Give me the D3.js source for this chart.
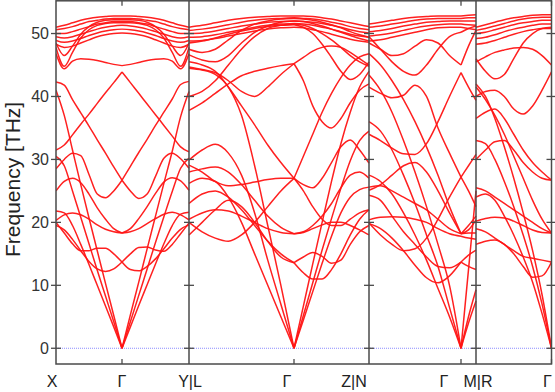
<!DOCTYPE html>
<html><head><meta charset="utf-8">
<script src="https://cdn.jsdelivr.net/npm/d3@7"></script>
<style>html,body{margin:0;padding:0;background:#fff;}svg{display:block;}</style>
</head><body>
<svg id="chart" width="555" height="392"></svg>
<script>
// ---------- data ----------
const kTicks = [0, 1, 2, 3, 4, 5, 6, 7];
const kLabels = ["X", "Γ", "Y|L", "Γ", "Z|N", "Γ", "M|R", "Γ"];
const gammaTicks = [1, 3, 5, 7];
const panelEdges = [2, 4, 6];
const yTicks = [0, 10, 20, 30, 40, 50];

// Panel 1: X -> Γ -> Y
const kPanel1 = [0,0.125,0.25,0.375,0.5,0.625,0.75,0.875,1,1.125,1.25,1.375,1.5,1.625,1.75,1.875,2];
const bandsPanel1 = [
  [41.0,37.0,31.5,26.0,20.7,15.5,10.3,5.2,0,5.3,10.5,15.8,21.0,26.2,31.3,36.8,40.8],
  [30.5,29.0,25.0,20.8,16.6,12.4,8.3,4.2,0,4.2,8.4,12.6,16.8,20.9,24.9,28.6,30.2],
  [21.8,21.5,19.5,16.5,13.3,10.0,6.7,3.4,0,3.4,6.8,10.1,13.4,16.6,19.5,21.3,21.6],
  [19.5,18.8,17.3,15.5,13.8,12.6,12.2,12.6,13.7,12.5,12.3,13.0,14.2,15.8,17.5,18.9,19.6],
  [20.0,18.3,16.6,15.5,15.5,15.9,15.9,15.0,13.7,15.0,16.0,16.1,15.6,15.4,16.5,18.2,19.9],
  [20.3,21.2,21.5,21.2,20.5,19.6,18.9,18.5,18.3,18.5,19.0,19.8,20.6,21.3,21.6,21.2,20.4],
  [25.0,26.5,27.0,26.3,24.5,22.3,20.5,19.0,18.3,19.0,20.6,22.5,24.6,26.4,27.1,26.6,25.1],
  [28.5,30.0,31.0,30.6,27.6,24.5,23.9,25.0,26.7,25.0,23.8,24.5,27.3,30.2,31.0,30.1,28.6],
  [42.3,41.8,39.5,37.4,35.3,33.1,31.0,28.8,26.7,28.9,31.1,33.2,35.4,37.5,39.6,41.9,42.4],
  [31.5,32.3,33.9,35.6,37.2,38.9,40.6,42.2,43.9,42.2,40.5,38.8,37.1,35.4,33.7,32.0,31.2],
  [46.8,44.4,45.6,46.0,45.9,45.7,45.4,45.1,44.9,45.1,45.4,45.7,45.9,46.0,45.6,44.4,46.8],
  [47.8,44.8,47.0,49.3,50.6,51.3,51.6,51.7,51.7,51.7,51.6,51.3,50.6,49.3,47.0,44.8,47.8],
  [48.5,46.5,48.0,49.9,51.1,51.8,52.1,52.2,52.2,52.2,52.1,51.8,51.1,49.9,48.0,46.5,48.5],
  [51.0,51.3,51.7,52.1,52.4,52.6,52.7,52.8,52.8,52.8,52.7,52.6,52.4,52.1,51.7,51.3,51.0],
  [50.6,50.8,51.1,51.5,51.9,52.1,52.3,52.4,52.4,52.4,52.3,52.1,51.9,51.5,51.1,50.8,50.6],
  [50.0,50.0,50.3,50.7,51.1,51.5,51.7,51.9,51.9,51.9,51.7,51.5,51.1,50.7,50.3,50.0,50.0],
  [49.5,49.3,49.5,49.9,50.3,50.7,51.0,51.2,51.3,51.2,51.0,50.7,50.3,49.9,49.5,49.3,49.5],
  [48.9,48.6,48.8,49.2,49.7,50.1,50.4,50.6,50.7,50.6,50.4,50.1,49.7,49.2,48.8,48.6,48.9],
  [48.3,47.8,48.0,48.5,49.0,49.5,49.8,50.0,50.1,50.0,49.8,49.5,49.0,48.5,48.0,47.8,48.3]
];

// Panel 2: L -> Γ -> Z
const kPanel2 = [2,2.125,2.25,2.375,2.5,2.625,2.75,2.875,3,3.125,3.25,3.375,3.5,3.625,3.75,3.875,4];
const bandsPanel2 = [
  [44.5,44.2,43.5,41.5,37.0,29.0,19.5,10.0,0,6.7,13.4,20.0,26.5,32.5,37.5,41.5,44.0],
  [29.9,31.5,32.4,31.0,27.5,21.5,14.0,7.0,0,5.2,10.4,15.6,20.6,25.4,29.8,33.0,34.5],
  [26.2,27.0,26.5,24.0,20.0,15.0,10.0,5.0,0,4.5,9.0,13.5,17.8,21.5,24.0,25.2,25.6],
  [23.0,24.5,25.0,24.0,22.0,19.5,17.0,15.0,13.6,12.0,11.0,11.0,12.5,15.0,18.0,20.5,22.0],
  [18.0,20.0,22.0,23.5,22.5,20.0,17.0,14.5,13.6,14.5,15.2,14.6,13.5,14.0,16.5,18.5,19.5],
  [20.5,21.5,22.0,21.8,21.0,20.0,19.0,18.4,18.2,18.4,19.0,19.6,20.0,20.0,19.5,18.8,18.0],
  [28.0,28.5,28.8,28.0,26.0,23.5,21.0,19.2,18.2,18.5,19.5,21.0,23.0,25.5,27.5,28.0,27.0],
  [45.5,45.0,44.0,41.5,38.5,35.5,32.3,29.5,27.0,30.5,34.0,37.5,40.5,43.0,45.0,46.3,46.8],
  [20.0,18.5,17.5,17.0,18.0,20.0,22.5,25.0,27.0,25.0,22.5,20.5,19.5,19.5,20.5,21.5,22.0],
  [29.1,28.0,26.5,25.8,26.0,26.4,26.8,27.0,27.0,26.0,25.5,27.0,29.5,32.0,33.1,31.5,29.4],
  [44.7,44.3,43.8,42.5,40.8,40.0,41.5,43.5,45.2,46.2,47.2,47.8,48.0,47.8,47.0,46.0,45.0],
  [37.8,39.0,40.5,42.0,43.3,44.0,44.5,44.9,45.2,42.5,38.5,36.0,35.0,36.5,39.0,41.0,42.0],
  [48.5,48.8,49.3,49.9,50.4,50.8,51.1,51.3,51.4,51.0,50.0,48.3,46.2,44.0,42.7,43.5,45.5],
  [46.6,45.8,45.5,46.5,48.5,50.2,51.2,51.8,52.0,51.9,51.6,51.2,50.7,50.2,49.7,49.2,48.8],
  [47.5,47.0,47.5,49.0,50.5,51.5,52.0,52.3,52.4,52.3,52.1,51.8,51.4,50.9,50.3,49.8,49.4],
  [40.0,40.8,42.5,45.0,47.5,49.5,50.8,51.3,51.5,51.3,50.8,50.0,49.0,47.8,46.5,45.5,44.8],
  [51.0,51.3,51.7,52.1,52.4,52.6,52.7,52.8,52.8,52.8,52.7,52.5,52.3,52.0,51.7,51.4,51.1],
  [50.5,50.7,51.0,51.4,51.8,52.1,52.3,52.4,52.5,52.4,52.3,52.1,51.8,51.5,51.1,50.8,50.6],
  [50.0,50.1,50.4,50.8,51.2,51.5,51.8,51.9,52.0,51.9,51.8,51.6,51.3,51.0,50.6,50.3,50.1],
  [49.4,49.5,49.8,50.2,50.6,51.0,51.3,51.5,51.6,51.5,51.3,51.0,50.7,50.3,49.9,49.6,49.4],
  [48.8,48.9,49.2,49.6,50.0,50.4,50.7,50.9,51.0,50.9,50.6,50.3,49.9,49.5,49.1,48.8,48.6]
];

// Panel 3: N -> Γ -> M
const kPanel3 = [4,4.125,4.25,4.375,4.5,4.625,4.75,4.875,5,5.5,6];
const bandsPanel3 = [
  [43.4,41.0,37.5,33.0,28.0,22.5,16.5,10.0,0,12.5,25.0],
  [36.0,34.5,31.5,27.5,23.0,18.0,13.0,6.5,0,5.0,9.3],
  [27.5,26.5,24.5,21.5,18.0,14.0,9.5,5.0,0,4.0,7.5],
  [19.8,19.0,17.5,15.5,13.2,11.2,10.4,11.5,13.7,14.8,15.6],
  [24.3,23.5,21.0,18.5,16.5,14.5,13.0,12.8,13.7,13.0,12.5],
  [20.4,20.8,20.9,20.8,20.5,20.0,19.0,18.2,17.8,17.5,17.3],
  [25.6,25.8,25.0,24.0,23.0,22.0,20.5,19.0,18.2,18.8,20.4],
  [25.1,26.0,27.5,29.0,29.5,28.0,25.0,21.5,18.2,18.3,18.3],
  [34.0,33.0,31.8,30.9,30.8,32.5,36.0,40.0,43.8,41.5,39.4],
  [41.5,40.5,39.8,40.2,41.8,40.0,35.0,31.0,27.2,29.0,30.8],
  [19.9,18.0,16.5,15.5,15.8,17.5,20.5,24.0,27.2,25.0,22.5],
  [48.5,47.5,46.5,46.8,48.0,49.0,48.5,46.5,45.0,48.0,50.5],
  [49.5,47.5,45.5,44.0,43.4,45.0,47.5,49.5,50.2,50.8,51.2],
  [46.8,45.0,42.5,39.5,36.0,32.0,27.5,22.5,18.2,19.5,21.0],
  [51.5,51.8,52.1,52.4,52.6,52.7,52.8,52.8,52.8,52.9,53.0],
  [51.0,51.2,51.5,51.8,52.1,52.3,52.4,52.4,52.4,52.5,52.5],
  [50.3,50.5,50.8,51.2,51.5,51.8,51.9,52.0,52.0,52.0,52.0],
  [49.6,49.8,50.1,50.5,50.9,51.2,51.4,51.5,51.5,51.4,51.3],
  [48.8,49.0,49.4,49.8,50.2,50.6,50.9,51.0,51.0,50.8,50.6]
];

// Panel 4: R -> Γ
const kPanel4 = [6,6.125,6.25,6.375,6.5,6.625,6.75,6.875,7];
const bandsPanel4 = [
  [42.0,40.0,36.5,32.0,27.0,21.5,15.5,8.5,0],
  [33.0,32.5,30.0,26.5,22.5,18.0,13.0,7.0,0],
  [24.0,24.5,23.5,21.0,18.0,14.5,10.5,5.5,0],
  [16.5,17.0,17.2,16.5,15.0,13.0,11.3,11.5,13.7],
  [19.0,18.5,17.5,16.5,15.5,14.6,14.3,14.0,13.7],
  [20.2,20.6,20.8,20.7,20.2,19.5,18.8,18.4,18.3],
  [25.5,25.0,24.0,23.0,22.0,21.0,20.0,19.0,18.3],
  [30.0,31.5,32.8,33.0,31.5,29.5,28.0,27.0,26.7],
  [36.5,37.5,38.0,36.5,34.0,31.5,29.5,28.0,26.7],
  [40.0,40.8,41.0,40.0,38.0,37.2,38.5,41.0,43.9],
  [41.5,39.5,37.0,34.0,30.5,27.0,23.5,20.5,18.3],
  [45.5,46.3,47.0,47.4,47.7,47.8,47.5,46.5,45.0],
  [46.0,44.0,42.8,43.5,46.0,48.5,50.0,50.8,51.0],
  [51.0,51.4,51.8,52.2,52.5,52.7,52.9,53.0,53.0],
  [50.5,50.8,51.2,51.6,52.0,52.3,52.5,52.6,52.6],
  [50.0,50.2,50.6,51.0,51.4,51.7,51.9,52.1,52.1],
  [49.2,49.4,49.8,50.3,50.7,51.0,51.3,51.5,51.5],
  [48.3,48.5,48.9,49.4,49.9,50.3,50.6,50.8,50.8]
];

// ---------- layout ----------
const W = 555, H = 392;
const plotLeft = 56, plotRight = 551.5, plotTop = 0.8, plotBottom = 364;
const kPixels = [56, 122, 189, 294, 369, 461, 476, 551.5];
const labelShift = [-4, 0, 1, -7, -15, -17, 2, -4];

const svg = d3.select("#chart");
const x = d3.scaleLinear().domain(kTicks).range(kPixels);
const y = d3.scaleLinear().domain([-2.5, 55.2]).range([plotBottom, plotTop]);

const FONT = "'Liberation Sans', Arial, Helvetica, sans-serif";
const frameColor = "#4a4a4a";

// zero line (blue dotted)
svg.append("line")
  .attr("x1", plotLeft).attr("x2", plotRight)
  .attr("y1", y(0)).attr("y2", y(0))
  .attr("stroke", "#8c8cff").attr("stroke-width", 1)
  .attr("stroke-dasharray", "1,1");

// bands
const line = d3.line()
  .x(d => x(d[0])).y(d => y(d[1]))
  .curve(d3.curveMonotoneX);

svg.append("clipPath").attr("id", "plotclip")
  .append("rect").attr("x", plotLeft).attr("y", plotTop)
  .attr("width", plotRight - plotLeft).attr("height", plotBottom - plotTop);

const bandG = svg.append("g").attr("clip-path", "url(#plotclip)");

function drawPanel(ks, bands) {
  const breaks = [];
  ks.forEach((k, i) => { if (Math.abs(k - Math.round(k)) < 1e-9) breaks.push(i); });
  bands.forEach(b => {
    for (let s = 0; s < breaks.length - 1; s++) {
      const pts = [];
      for (let i = breaks[s]; i <= breaks[s + 1]; i++) pts.push([ks[i], b[i]]);
      bandG.append("path").attr("d", line(pts))
        .attr("fill", "none").attr("stroke", "#ff1414")
        .attr("stroke-width", 1.5).attr("stroke-opacity", 0.95)
        .attr("stroke-linejoin", "round");
    }
  });
}
drawPanel(kPanel1, bandsPanel1);
drawPanel(kPanel2, bandsPanel2);
drawPanel(kPanel3, bandsPanel3);
drawPanel(kPanel4, bandsPanel4);

// frame
svg.append("rect")
  .attr("x", plotLeft).attr("y", plotTop)
  .attr("width", plotRight - plotLeft).attr("height", plotBottom - plotTop)
  .attr("fill", "none").attr("stroke", frameColor).attr("stroke-width", 1.5);

// panel dividers
panelEdges.forEach(k => {
  svg.append("line").attr("x1", x(k)).attr("x2", x(k))
    .attr("y1", plotTop).attr("y2", plotBottom)
    .attr("stroke", frameColor).attr("stroke-width", 1.5);
});

// y ticks on all vertical lines
const vLines = [0, 2, 4, 6, 7];
vLines.forEach(k => {
  const px = x(k);
  yTicks.forEach(t => {
    svg.append("line").attr("x1", px - 5).attr("x2", px + 5)
      .attr("y1", y(t)).attr("y2", y(t))
      .attr("stroke", frameColor).attr("stroke-width", 1.3);
  });
});

// Γ ticks top & bottom
gammaTicks.forEach(k => {
  svg.append("line").attr("x1", x(k)).attr("x2", x(k))
    .attr("y1", plotTop).attr("y2", plotTop + 5)
    .attr("stroke", frameColor).attr("stroke-width", 1.3);
  svg.append("line").attr("x1", x(k)).attr("x2", x(k))
    .attr("y1", plotBottom).attr("y2", plotBottom - 5)
    .attr("stroke", frameColor).attr("stroke-width", 1.3);
});

// y tick labels
svg.append("g").selectAll("text").data(yTicks).join("text")
  .attr("x", 49).attr("y", d => y(d))
  .attr("dy", "0.35em")
  .attr("text-anchor", "end")
  .attr("font-family", FONT).attr("font-size", 16)
  .attr("fill", "#333")
  .text(d => d);

// x labels
svg.append("g").selectAll("text").data(kTicks).join("text")
  .attr("x", (d, i) => x(d) + labelShift[i])
  .attr("y", 387)
  .attr("text-anchor", "middle")
  .attr("font-family", FONT).attr("font-size", 16)
  .attr("fill", "#222")
  .text((d, i) => kLabels[i]);

// y axis title
svg.append("text")
  .attr("transform", `translate(20,${(plotTop + plotBottom) / 2 - 3}) rotate(-90)`)
  .attr("text-anchor", "middle")
  .attr("font-family", FONT).attr("font-size", 21)
  .attr("fill", "#222")
  .text("Frequency [THz]");
</script>
</body></html>
